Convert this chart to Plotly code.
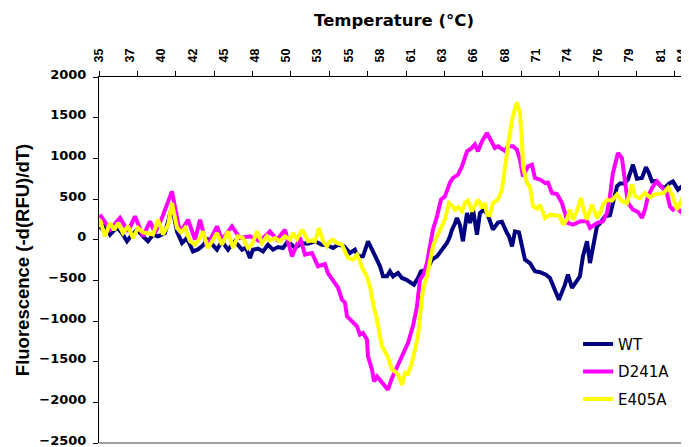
import plotly.graph_objects as go

# ---- data ----
wt_temp = [35.08, 35.50, 35.92, 36.50, 36.92, 37.33, 37.75, 38.17, 38.67, 39.08,
           39.50, 39.92, 40.50, 41.08, 41.50, 41.92, 42.33, 42.83, 43.25, 43.58,
           44.08, 44.50, 44.83, 45.25, 45.75, 46.33, 46.92, 47.25, 47.58, 47.83,
           48.25, 48.67, 49.08, 49.50, 49.92, 50.33, 50.75, 51.33, 51.92, 52.42,
           53.00, 53.58, 54.08, 54.50, 54.92, 55.42, 55.92, 56.33, 56.58, 57.00,
           57.42, 57.83, 58.17, 58.42, 58.67, 59.00, 59.25, 59.50, 59.92, 60.25,
           60.58, 61.00, 61.25, 61.58, 61.83, 62.33, 62.75, 63.17, 63.50, 63.83,
           64.00, 64.25, 64.42, 64.67, 64.83, 65.08, 65.33, 65.67, 65.92, 66.17,
           66.50, 66.75, 67.08, 67.42, 67.83, 68.25, 68.58, 69.00, 69.17, 69.42,
           69.67, 70.00, 70.25, 70.50, 70.92, 71.33, 71.75, 72.25, 72.58, 72.92,
           73.33, 73.83, 74.08, 74.42, 74.75, 75.08, 75.33, 75.67, 75.92, 76.17,
           76.50, 76.75, 77.17, 77.58, 77.92, 78.17, 78.42, 78.75, 79.08, 79.50,
           79.83, 80.25, 80.58, 80.83, 81.08, 81.42, 81.83, 82.17, 82.50, 82.83,
           83.25, 83.58, 83.83, 84.17]
wt_val = [123, 180, 62, 150, 80, -20, 60, 123, 40, -20,
          60, 40, 82, 410, 100, -41, 20, -144, -120, -82,
          0, -60, -123, -20, -123, -20, -123, -100, -225, -123,
          -110, -144, -62, -123, -90, -102, -20, -102, -41, -50,
          -20, -62, -70, -102, -62, -80, -164, -123, -205, -205,
          -20, -144, -267, -328, -451, -451, -389, -451, -410, -471,
          -490, -533, -553, -471, -389, -369, -246, -205, -144, -82,
          -41, 41, 123, 200, 267, 180, -20, 328, 205, 369,
          62, 328, 369, 300, 123, 210, 220, 82, 40, -82,
          102, 90, -100, -246, -290, -389, -400, -430, -471, -594,
          -738, -553, -430, -594, -520, -451, -205, -20, -287, -100,
          164, 200, 287, 300, 500, 656, 690, 690, 738, 922,
          750, 760, 890, 820, 717, 720, 656, 640, 690, 717,
          615, 656, 570, 615]

d241a_temp = [35.08, 35.92, 36.75, 37.42, 38.00, 38.67, 39.25, 39.67, 40.25, 41.08,
              41.75, 42.42, 43.00, 43.42, 44.00, 44.83, 45.25, 46.08, 46.75, 47.58,
              48.42, 49.25, 49.83, 50.50, 51.08, 51.75, 52.17, 52.75, 53.25, 53.83,
              54.08, 54.42, 54.92, 55.25, 55.50, 55.67, 55.92, 56.50, 56.75, 57.00,
              57.33, 57.42, 57.75, 57.92, 58.17, 58.67, 59.08, 59.42, 59.83, 60.33,
              60.75, 61.17, 61.50, 61.75, 62.08, 62.33, 62.58, 62.83, 63.17, 63.50,
              63.83, 64.25, 64.50, 64.92, 65.25, 65.67, 66.08, 66.33, 66.58, 66.92,
              67.33, 67.75, 68.00, 68.25, 68.58, 68.83, 69.08, 69.50, 69.83, 70.08,
              70.33, 70.75, 71.08, 71.33, 71.75, 72.17, 72.42, 72.75, 73.17, 73.58,
              73.83, 74.08, 74.50, 75.08, 75.67, 75.92, 76.50, 77.00, 77.33, 77.58,
              77.83, 78.25, 78.58, 78.83, 79.08, 79.50, 79.92, 80.25, 80.50, 80.75,
              81.17, 81.50, 81.92, 82.33, 82.58, 82.83, 83.17, 83.42, 83.83, 84.17]
d241a_val = [307, 123, 267, 102, 287, 41, 225, 82, 267, 594,
             82, 246, 0, 246, -82, 164, 0, 164, 20, 41,
             -20, 102, 0, 123, -205, 25, -185, -164, -328, -299,
             -410, -492, -591, -738, -775, -943, -984, -1066, -1168, -1148,
             -1230, -1435, -1599, -1743, -1681, -1763, -1845, -1700, -1560, -1394,
             -1270, -1060, -820, -492, -420, -287, -82, 123, 287, 492,
             533, 701, 759, 800, 902, 1086, 1128, 1170, 1086, 1209,
             1312, 1209, 1128, 1148, 1107, 1090, 1148, 1148, 1107, 984,
             779, 902, 922, 759, 740, 697, 700, 574, 560, 451,
             328, 205, 184, 225, 230, 144, 205, 225, 328, 533,
             820, 1066, 1004, 738, 451, 369, 340, 267, 369, 533,
             656, 717, 650, 574, 410, 369, 400, 348, 307, 287]

e405a_temp = [35.08, 35.50, 35.92, 36.25, 36.58, 37.00, 37.42, 37.83, 38.25, 38.67,
              39.08, 39.50, 39.92, 40.33, 40.75, 41.08, 41.50, 41.83, 42.17, 42.58,
              43.00, 43.42, 43.67, 44.08, 44.50, 44.83, 45.25, 45.50, 45.75, 46.17,
              46.58, 47.00, 47.42, 47.75, 48.17, 48.58, 49.00, 49.25, 49.67, 50.08,
              50.50, 50.92, 51.17, 51.50, 51.92, 52.17, 52.42, 52.75, 53.00, 53.33,
              53.67, 54.00, 54.25, 54.50, 54.83, 55.25, 55.50, 55.75, 56.17, 56.50,
              56.75, 57.00, 57.33, 57.58, 57.83, 58.17, 58.42, 58.58, 58.83, 59.08,
              59.42, 59.67, 59.92, 60.25, 60.50, 60.75, 61.08, 61.33, 61.58, 61.75,
              62.00, 62.33, 62.58, 62.83, 63.17, 63.42, 63.67, 63.83, 64.17, 64.42,
              64.67, 64.92, 65.25, 65.50, 65.75, 66.08, 66.33, 66.58, 66.92, 67.17,
              67.33, 67.58, 67.83, 68.25, 68.58, 68.83, 69.08, 69.42, 69.67, 69.83,
              70.08, 70.25, 70.33, 70.67, 70.92, 71.17, 71.50, 71.75, 72.17, 72.58,
              73.00, 73.42, 73.67, 74.00, 74.25, 74.50, 74.83, 75.17, 75.42, 75.67,
              76.08, 76.50, 76.75, 77.00, 77.33, 77.75, 78.17, 78.58, 79.00, 79.42,
              79.67, 80.08, 80.50, 80.92, 81.25, 81.67, 82.08, 82.42, 82.75, 83.17,
              83.42, 83.75, 84.00, 84.17]
e405a_val = [246, 41, 205, 120, 205, 82, 164, 20, 144, 90,
             80, 62, 246, 62, 180, 451, 144, 90, 144, -20,
             -60, 20, 102, -102, 0, 82, -62, 20, 102, -102,
             41, 20, -102, -60, 102, -41, 41, -10, 20, -20,
             40, 0, 80, 10, 123, 60, -20, -10, -20, 144,
             -20, -82, -20, 0, -40, -62, -144, -225, -246, -185,
             -267, -369, -451, -574, -779, -984, -1189, -1312, -1373, -1450,
             -1599, -1620, -1660, -1783, -1640, -1650, -1517, -1353, -1189, -943,
             -615, -451, -287, -82, 41, 123, 205, 250, 451, 420,
             369, 400, 348, 451, 480, 348, 420, 492, 390, 450,
             307, 300, 451, 492, 615, 902, 1148, 1476, 1640, 1690,
             1558, 1230, 902, 697, 650, 410, 380, 431, 267, 307,
             300, 287, 184, 250, 369, 246, 350, 513, 350, 246,
             431, 267, 320, 431, 490, 480, 554, 472, 450, 677,
             533, 510, 574, 520, 554, 560, 574, 640, 560, 369,
             450, 554, 410, 480]

label_temps = [35.0, 37.6, 40.2, 42.8, 45.4, 48.0, 50.6, 53.2, 55.8, 58.4,
               61.0, 63.6, 66.2, 68.8, 71.4, 74.0, 76.6, 79.2, 81.8, 83.6]
label_text = ["35", "37", "40", "42", "45", "48", "50", "53", "55", "58",
              "61", "63", "66", "68", "71", "74", "76", "79", "81", "84"]
tick_temps = [35.0, 38.2, 41.4, 44.6, 47.8, 51.0, 54.2, 57.4, 60.6, 63.8,
              67.0, 70.2, 73.4, 76.6, 79.8, 83.0]
y_ticks = [-2500, -2000, -1500, -1000, -500, 0, 500, 1000, 1500, 2000]

series = [
    ("WT", wt_temp, wt_val, "#000080"),
    ("D241A", d241a_temp, d241a_val, "#FF00FF"),
    ("E405A", e405a_temp, e405a_val, "#FFFF00"),
]

fig = go.Figure()
for name, xs, ys, col in series:
    fig.add_trace(go.Scatter(x=xs, y=ys, mode="lines", name=name,
                             legendgroup=name,
                             line=dict(color=col, width=4)))

# the page body adds an 8px margin, so the figure is drawn 8px in from the top-left
fig.update_layout(
    width=681, height=439,
    margin=dict(l=91, r=0, t=69, b=4, autoexpand=False),
    paper_bgcolor="white", plot_bgcolor="white",
    showlegend=True,
    legend=dict(x=0.812, xanchor="left", y=0.315, yanchor="top",
                font=dict(family="DejaVu Sans", size=15, color="black"),
                bgcolor="rgba(0,0,0,0)", borderwidth=0,
                tracegroupgap=5, traceorder="grouped"),
    xaxis=dict(
        side="top", range=[35, 84.17], showgrid=False, zeroline=False,
        showline=True, linecolor="black", linewidth=1,
        tickmode="array", tickvals=label_temps, ticktext=label_text,
        ticks="", tickangle=-90, ticklabelstandoff=11,
        ticklabeloverflow="allow",
        tickfont=dict(family="Liberation Sans, Arial", size=12.5, color="black", weight="bold"),
        minor=dict(tickmode="array", tickvals=tick_temps, ticks="outside",
                   ticklen=5, tickcolor="black", tickwidth=1, showgrid=False),
        title=dict(text="Temperature (°C)", standoff=17,
                   font=dict(family="DejaVu Sans", size=16.5, color="black", weight="bold")),
    ),
    yaxis=dict(
        range=[-2500, 2000], tickmode="array", tickvals=y_ticks,
        showgrid=False, zeroline=False,
        showline=True, linecolor="black", linewidth=1,
        ticks="outside", ticklen=5, tickcolor="black",
        ticklabelstandoff=4, ticklabeloverflow="allow", ticklabelshift=-3,
        tickfont=dict(family="DejaVu Sans", size=13, color="black", weight="bold"),
        title=dict(text="Fluorescence (-d(RFU)/dT)", standoff=4,
                   font=dict(family="Liberation Sans, Arial", size=18.5, color="black", weight="bold")),
    ),
    shapes=[dict(type="line", xref="paper", yref="paper", x0=0, x1=1, y0=0, y1=0,
                 line=dict(color="#808080", width=1.5))],
)

fig.write_html("out.html")
